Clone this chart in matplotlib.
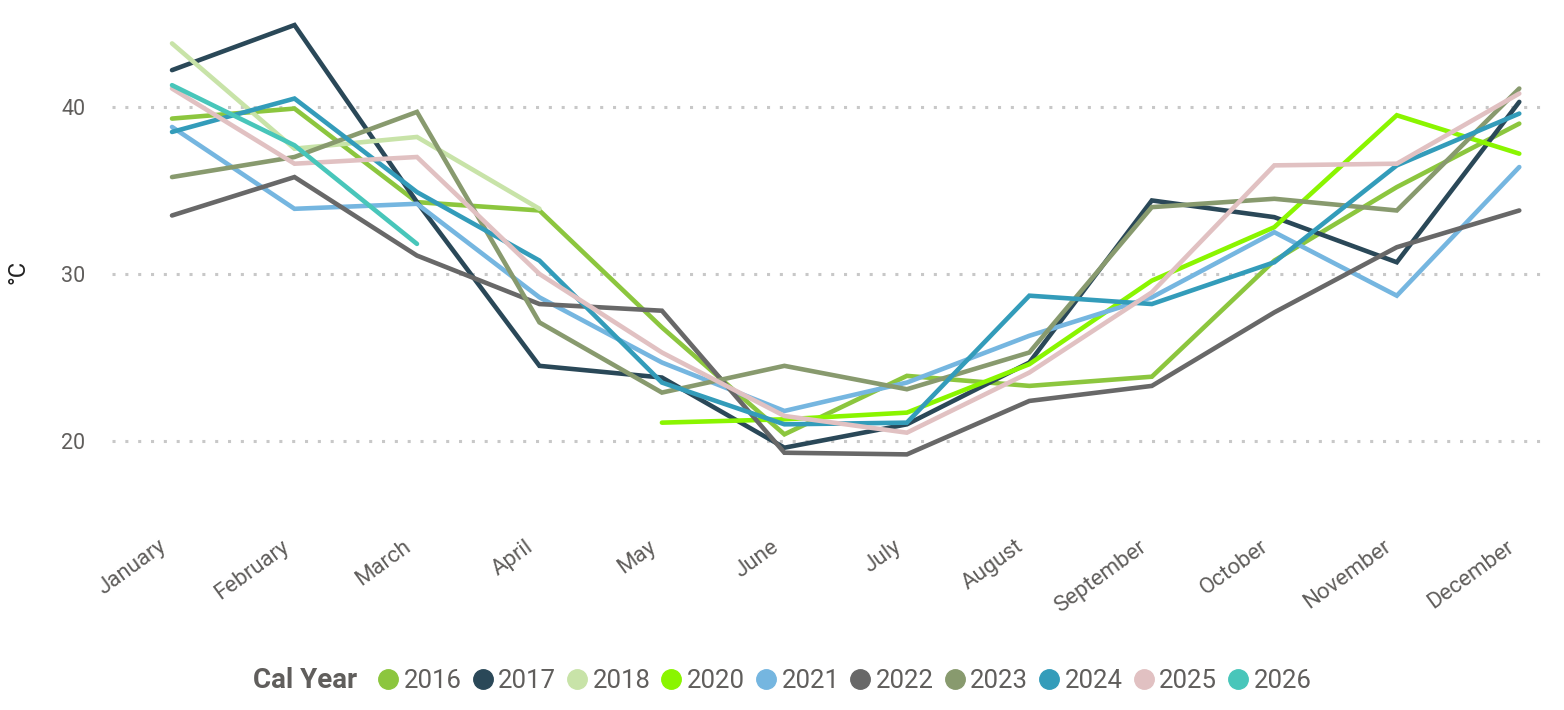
import numpy as np
import matplotlib
matplotlib.use("Agg")
import matplotlib.pyplot as plt
import matplotlib.transforms as mtransforms
from matplotlib.lines import Line2D

plt.rcParams['font.family'] = ['Roboto', 'DejaVu Sans']

##########################

months = ["January", "February", "March", "April", "May", "June", "July",
          "August", "September", "October", "November", "December"]

years = ["2016", "2017", "2018", "2020", "2021", "2022", "2023", "2024", "2025", "2026"]

colors = ["#8CC63E", "#2A4858", "#C8E3A8", "#8AF500", "#75B6E0",
          "#686868", "#889A6E", "#339CBA", "#E1C1C2", "#48C6BA"]

nan = np.nan
t2016 = [39.3, 39.9, 34.3, 33.8, 26.8, 20.4, 23.9, 23.3, 23.85, 30.8, 35.2, 39.0]
t2017 = [42.2, 44.9, 34.3, 24.5, 23.8, 19.6, 21.0, 24.7, 34.4, 33.4, 30.7, 40.3]
t2018 = [43.8, 37.5, 38.2, 33.9, nan, nan, nan, nan, nan, nan, nan, nan]
t2020 = [nan, nan, nan, nan, 21.1, 21.3, 21.7, 24.6, 29.6, 32.8, 39.5, 37.2]
t2021 = [38.8, 33.9, 34.2, 28.6, 24.7, 21.8, 23.5, 26.3, 28.6, 32.5, 28.7, 36.4]
t2022 = [33.5, 35.8, 31.1, 28.2, 27.8, 19.3, 19.2, 22.4, 23.3, 27.7, 31.6, 33.8]
t2023 = [35.8, 37.0, 39.7, 27.1, 22.9, 24.5, 23.1, 25.3, 34.0, 34.5, 33.8, 41.1]
t2024 = [38.5, 40.5, 34.9, 30.8, 23.5, 21.0, 21.1, 28.7, 28.2, 30.7, 36.5, 39.6]
t2025 = [41.1, 36.6, 37.0, 30.0, 25.3, 21.5, 20.5, 24.1, 28.9, 36.5, 36.6, 40.8]
t2026 = [41.3, 37.7, 31.8, nan, nan, nan, nan, nan, nan, nan, nan, nan]

series = [t2016, t2017, t2018, t2020, t2021, t2022, t2023, t2024, t2025, t2026]

##########################

txtcol = "#605E5C"

fig = plt.figure(figsize=(15.64, 7.10), dpi=100)
ax = fig.add_axes([112/1564, 210/710, 1433/1564, 490/710])

x = np.arange(len(months))
for yr, col, vals in zip(years, colors, series):
    ax.plot(x, vals, color=col, lw=3.3, solid_capstyle="round", solid_joinstyle="miter", label=yr)

ax.set_xlim(-0.49, 11.21)
ax.set_ylim(16.47, 45.8)
ax.set_yticks([20, 30, 40])
ax.yaxis.grid(True, color="#C8C8C8", linestyle=(0, (1, 3.2)), lw=2.2)
ax.set_axisbelow(True)
for s in ax.spines.values():
    s.set_visible(False)
ax.tick_params(axis="both", length=0, colors=txtcol)
ax.tick_params(axis="y", pad=19, labelsize=15.5)
ax.set_xticks(x)
ax.set_xticklabels(months, rotation=36, ha="right", rotation_mode="anchor")
ax.tick_params(axis="x", pad=26, labelsize=16)
shift = mtransforms.ScaledTranslation(-0.14, 0, fig.dpi_scale_trans)
for lab in ax.get_xticklabels():
    lab.set_transform(lab.get_transform() + shift)

ax.set_ylabel("°C", color="#222222", fontsize=17, va="center", ha="center")
ax.yaxis.set_label_coords(-(112 - 18) / 1433, (500 - 272) / 490)

# legend
fig.text(253/1564, 1 - 681/710, "Cal Year", fontsize=20, fontweight="bold",
         color=txtcol, va="center", ha="left")
handles = [Line2D([], [], marker="o", ls="none", color=c, markersize=14) for c in colors]
leg = fig.legend(handles, years, loc="center left", bbox_to_anchor=(378/1564, 1 - 681/710),
                 ncol=len(years), frameon=False, handletextpad=0.2, columnspacing=0.42,
                 handlelength=0.8, fontsize=18.5, borderaxespad=0, borderpad=0)
for t in leg.get_texts():
    t.set_color(txtcol)

plt.savefig("out.png", dpi=100)
plt.close()
